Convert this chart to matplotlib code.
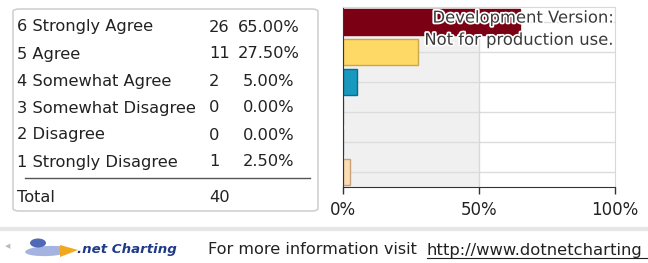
import matplotlib
matplotlib.use("Agg")
import matplotlib.pyplot as plt
import matplotlib.patheffects as pe
from matplotlib.patches import FancyBboxPatch, Rectangle, Polygon, Ellipse

# Survey data
labels = ["6 Strongly Agree", "5 Agree", "4 Somewhat Agree",
          "3 Somewhat Disagree", "2 Disagree", "1 Strongly Disagree"]
counts = [26, 11, 2, 0, 0, 1]
percents = [65.0, 27.5, 5.0, 0.0, 0.0, 2.5]
total = 40
bar_colors = ["#7b0014", "#ffd966", "#1798bf", "#cccccc", "#cccccc", "#fcdcb4"]
edge_colors = ["#7b0014", "#c9a84a", "#0f6b8a", "#999999", "#999999", "#c9a27a"]
xticks = [0, 50, 100]
xtick_labels = ["0%", "50%", "100%"]

W, H = 648, 263
fig = plt.figure(figsize=(W / 100, H / 100), dpi=100)
plt.rcParams['font.family'] = ['DejaVu Sans']

def fx(px):
    return px / W

def fy(py):
    return 1 - py / H

tfs = 11.7

# Table box on the left
box = FancyBboxPatch((fx(13), fy(211)), fx(305), fy(9) - fy(211),
                     boxstyle="round,pad=0,rounding_size=0.01",
                     transform=fig.transFigure, facecolor="white",
                     edgecolor="#c8c8c8", linewidth=1.0)
fig.patches.append(box)

row_y = [27, 54, 81, 108, 135, 162]
for y, lab, c, p in zip(row_y, labels, counts, percents):
    fig.text(fx(17), fy(y), lab, fontsize=tfs, va="center", ha="left", color="#222222")
    fig.text(fx(209), fy(y), str(c), fontsize=tfs, va="center", ha="left", color="#222222")
    fig.text(fx(269), fy(y), f"{p:.2f}%", fontsize=tfs, va="center", ha="center", color="#222222")

fig.add_artist(plt.Line2D([fx(25), fx(310)], [fy(178), fy(178)],
                          transform=fig.transFigure, color="#555555", linewidth=1.0))
fig.text(fx(17), fy(197), "Total", fontsize=tfs, va="center", ha="left", color="#222222")
fig.text(fx(209), fy(197), str(total), fontsize=tfs, va="center", ha="left", color="#222222")

# Bar chart
ax = fig.add_axes([fx(343), fy(187), fx(615) - fx(343), fy(7) - fy(187)])
ypos = list(range(len(labels)))
ax.add_patch(Rectangle((0, -0.5), 50, len(labels), facecolor="#f0f0f0", edgecolor="none", zorder=0))
for yy in ypos:
    ax.axhline(yy, color="#dcdcdc", linewidth=1.0, zorder=1)
ax.axvline(50, color="#d8d8d8", linewidth=1.0, zorder=1)
ax.barh(ypos, percents, height=0.86, color=bar_colors, edgecolor=edge_colors,
        linewidth=1.0, zorder=2)
ax.set_xlim(0, 100)
ax.set_ylim(len(labels) - 0.5, -0.5)
ax.set_xticks(xticks)
ax.set_xticklabels(xtick_labels, fontsize=12, color="#222222")
ax.set_yticks([])
ax.tick_params(axis="x", direction="out", length=5, width=1, color="#333333", pad=5)
ax.spines["top"].set_color("#d8d8d8")
ax.spines["right"].set_color("#d8d8d8")
ax.spines["left"].set_color("#333333")
ax.spines["bottom"].set_color("#333333")

# Watermark
ax.text(0.995, 0.98, "Development Version:\nNot for production use.",
        transform=ax.transAxes, ha="right", va="top", fontsize=11.8,
        color="#3a3a3a", linespacing=1.6, zorder=5,
        path_effects=[pe.withStroke(linewidth=2.5, foreground="white")])

# Footer
fig.add_artist(plt.Line2D([0, 1], [fy(229), fy(229)], transform=fig.transFigure,
                          color="#e6e6e6", linewidth=3))
fig.text(fx(5), fy(246), "◀", fontsize=5, color="#bbbbbb", va="center", ha="left")
fig.patches.append(Ellipse((fx(48), fy(251)), fx(46), 10 / H, angle=8,
                           transform=fig.transFigure, facecolor="#8ea0d8",
                           edgecolor="none", alpha=0.8))
fig.patches.append(Ellipse((fx(38), fy(243)), fx(16), 9 / H,
                           transform=fig.transFigure, facecolor="#4f68b8",
                           edgecolor="none"))
fig.patches.append(Polygon([(fx(60), fy(245)), (fx(78), fy(250)), (fx(60), fy(257))],
                           closed=True, transform=fig.transFigure,
                           facecolor="#f2a81d", edgecolor="none"))
fig.text(fx(77), fy(250), ".net Charting", fontsize=9.6, color="#203a8a",
         fontweight="bold", style="italic", va="center", ha="left")
fig.text(fx(208), fy(250), "For more information visit", fontsize=11.6,
         color="#222222", va="center", ha="left")
fig.text(fx(427), fy(250), "http://www.dotnetcharting", fontsize=11.8,
         color="#222222", va="center", ha="left")
fig.add_artist(plt.Line2D([fx(427), fx(648)], [fy(258), fy(258)],
                          transform=fig.transFigure, color="#222222", linewidth=0.8))

fig.savefig("out.png", dpi=100)
